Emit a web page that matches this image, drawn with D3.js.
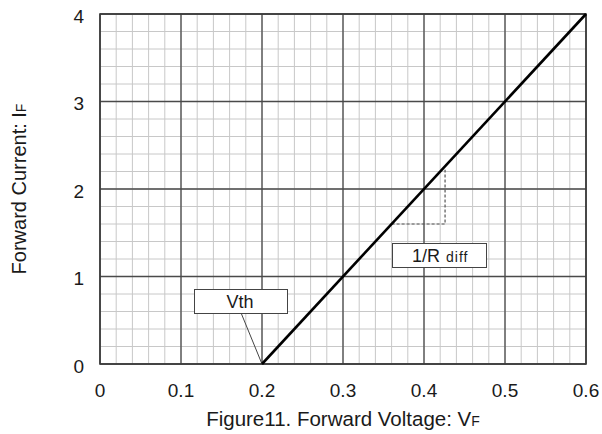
<!DOCTYPE html>
<html><head><meta charset="utf-8">
<script src="https://cdn.jsdelivr.net/npm/d3@7"></script>
<style>body{margin:0;background:#fff}svg{display:block}text{font-family:"Liberation Sans",Arial,sans-serif;fill:#1a1a1a}</style>
</head><body><svg id="c" width="602" height="434"></svg>
<script>
const xTicks = [0, 0.1, 0.2, 0.3, 0.4, 0.5, 0.6];
const yTicks = [0, 1, 2, 3, 4];
const curveV = [0.2, 0.6];
const curveI = [0, 4];
const slopeV = [0.36, 0.426, 0.426];
const slopeI = [1.6, 1.6, 2.22];
const vthPoint = [0.2, 0];

const svg = d3.select("#c");
const m = {l:100, r:586, t:14, b:364};
const x = d3.scaleLinear().domain([0,0.6]).range([m.l,m.r]);
const y = d3.scaleLinear().domain([0,4]).range([m.b,m.t]);

const g = svg.append("g");
// minor grid
const xMinor = d3.range(0,0.6001,0.02), yMinor = d3.range(0,4.001,0.2);
g.selectAll(".vx").data(xMinor).join("line").attr("x1",d=>x(d)).attr("x2",d=>x(d)).attr("y1",m.t).attr("y2",m.b).attr("stroke","#c8c8c8").attr("stroke-width",1);
g.selectAll(".hy").data(yMinor).join("line").attr("y1",d=>y(d)).attr("y2",d=>y(d)).attr("x1",m.l).attr("x2",m.r).attr("stroke","#c8c8c8").attr("stroke-width",1);
// major grid
g.selectAll(".vX").data(xTicks).join("line").attr("x1",d=>x(d)).attr("x2",d=>x(d)).attr("y1",m.t).attr("y2",m.b).attr("stroke","#4a4a4a").attr("stroke-width",1.3);
g.selectAll(".hY").data(yTicks).join("line").attr("y1",d=>y(d)).attr("y2",d=>y(d)).attr("x1",m.l).attr("x2",m.r).attr("stroke","#4a4a4a").attr("stroke-width",1.3);
g.append("rect").attr("x",m.l).attr("y",m.t).attr("width",m.r-m.l).attr("height",m.b-m.t).attr("fill","none").attr("stroke","#3a3a3a").attr("stroke-width",1.6);

// tick labels
svg.selectAll(".xl").data(xTicks).join("text").attr("x",d=>x(d)).attr("y",397).attr("text-anchor","middle").attr("font-size",19).text(d=>d===0?"0":d3.format(".1f")(d));
svg.selectAll(".yl").data(yTicks).join("text").attr("x",84).attr("y",d=>y(d)+8.5).attr("text-anchor","end").attr("font-size",19).text(d=>d);

// titles
const xt = svg.append("text").attr("x",(m.l+m.r)/2).attr("y",426).attr("text-anchor","middle").attr("font-size",20.5);
xt.append("tspan").text("Figure11. Forward Voltage: V");
xt.append("tspan").attr("font-size",14).text("F");
const yt = svg.append("text").attr("transform",`translate(26,189) rotate(-90)`).attr("text-anchor","middle").attr("font-size",20);
yt.append("tspan").text("Forward Current: I");
yt.append("tspan").attr("font-size",14).text("F");

// slope dashed
const line = d3.line().x(d=>x(d[0])).y(d=>y(d[1]));
svg.append("path").attr("d",line(slopeV.map((v,i)=>[v,slopeI[i]]))).attr("fill","none").attr("stroke","#555").attr("stroke-width",1.2).attr("stroke-dasharray","3,2");

// Vth leader
svg.append("line").attr("x1",241.5).attr("y1",314).attr("x2",x(vthPoint[0])).attr("y2",y(vthPoint[1])).attr("stroke","#444").attr("stroke-width",1);

// main curve
svg.append("path").attr("d",line(curveV.map((v,i)=>[v,curveI[i]]))).attr("fill","none").attr("stroke","#000").attr("stroke-width",2.6);

// Vth box
svg.append("rect").attr("x",194.5).attr("y",289.5).attr("width",93).attr("height",24).attr("fill","#fff").attr("stroke","#444").attr("stroke-width",1);
svg.append("text").attr("x",240).attr("y",308).attr("text-anchor","middle").attr("font-size",18).text("Vth");
// 1/R diff box
svg.append("rect").attr("x",392.5).attr("y",243.5).attr("width",94).attr("height",24).attr("fill","#fff").attr("stroke","#444").attr("stroke-width",1);
const rt = svg.append("text").attr("x",412).attr("y",262).attr("font-size",18);
rt.append("tspan").text("1/R");
rt.append("tspan").attr("x",446).attr("font-size",14).attr("letter-spacing",1).text("diff");
</script></body></html>
